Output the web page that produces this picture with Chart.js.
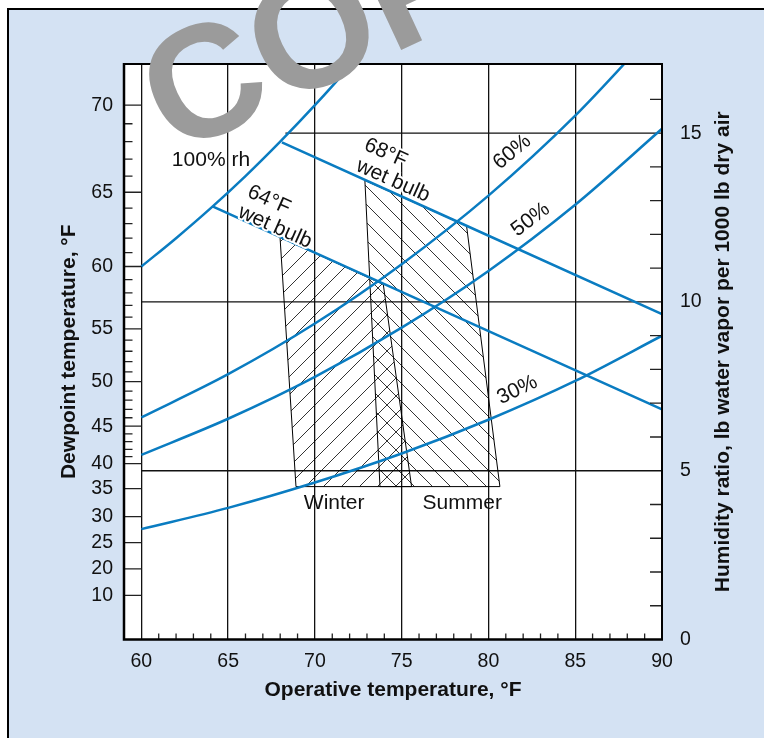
<!DOCTYPE html>
<html>
<head>
<meta charset="utf-8">
<script src="https://cdn.jsdelivr.net/npm/chart.js@4.4.1/dist/chart.umd.min.js"></script>
<style>
  html, body { margin: 0; padding: 0; background: #fff; }
  #wrap { position: relative; width: 764px; height: 738px; overflow: hidden; }
  #panel { position: absolute; left: 7px; top: 8px; width: 800px; height: 800px;
           background: #d4e2f3; border-top: 2.5px solid #000; border-left: 2.5px solid #000; }
  #chart { position: absolute; left: 0; top: 0; }
</style>
</head>
<body>
<div id="wrap">
  <div id="panel"></div>
  <canvas id="chart" width="764" height="738"></canvas>
</div>
<script>
// ---- data (x = operative temp °F, y = humidity ratio lb/1000 lb) ----
const satTemps = [60, 62, 64, 66, 68, 70, 72, 73];
const rh100 = [11.05, 11.89, 12.78, 13.73, 14.75, 15.83, 16.98, 17.6];

const rhTemps = [60, 65, 70, 75, 80, 85, 90];
const rh60 = [6.58, 7.86, 9.36, 11.12, 13.15, 15.52, 18.27];
const rh50 = [5.47, 6.54, 7.78, 9.24, 10.92, 12.88, 15.13];
const rh30 = [3.27, 3.90, 4.65, 5.51, 6.51, 7.66, 9.00];

const wb64Temps = [64.1, 90];
const wb64 = [12.83, 6.82];
const wb68Temps = [68.1, 90];
const wb68 = [14.73, 9.64];

// comfort zones (closed outlines)
const winterTemps = [67.99, 73.94, 75.57, 68.91, 67.99];
const winterW = [11.92, 10.52, 4.53, 4.53, 11.92];
const summerTemps = [72.88, 78.74, 80.66, 73.75, 72.88];
const summerW = [13.60, 12.25, 4.53, 4.53, 13.60];

// horizontal grid lines and where they start
const gridW = [5, 10, 15];
const gridFromT = [60, 60, 68.3];

// axes
const xTicks = [60, 65, 70, 75, 80, 85, 90];
const xMinor = [61, 62, 63, 64, 66, 67, 68, 69, 71, 72, 73, 74, 76, 77, 78, 79, 81, 82, 83, 84, 86, 87, 88, 89];
const wTicks = [0, 5, 10, 15];
const wMinor = [1, 2, 3, 4, 6, 7, 8, 9, 11, 12, 13, 14, 16];
const dewLabels = [10, 20, 25, 30, 35, 40, 45, 50, 55, 60, 65, 70];
const dewLabelW = [1.31, 2.09, 2.87, 3.64, 4.47, 5.21, 6.32, 7.64, 9.20, 11.05, 13.25, 15.83];
const dewMinorW = [5.42, 5.63, 5.86, 6.09, 6.57, 6.82, 7.09, 7.36, 7.93, 8.23, 8.54, 8.87,
                   9.55, 9.90, 10.27, 10.66, 11.46, 11.89, 12.32, 12.78, 13.73, 14.23, 14.75, 15.28];

// in-plot labels
const notes = [
  { text: '100% rh', t: 64.01, w: 14.21, a: 0, halo: true },
  { text: '64°F', t: 67.35, w: 13.02, a: 24, halo: true },
  { text: 'wet bulb', t: 67.70, w: 12.22, a: 24, halo: true },
  { text: '68°F', t: 74.08, w: 14.41, a: 24, halo: true },
  { text: 'wet bulb', t: 74.50, w: 13.59, a: 24, halo: true },
  { text: '60%', t: 81.37, w: 14.44, a: -40 },
  { text: '50%', t: 82.43, w: 12.44, a: -37 },
  { text: '30%', t: 81.66, w: 7.39, a: -26 },
  { text: 'Winter', t: 71.11, w: 4.04, a: 0 },
  { text: 'Summer', t: 78.49, w: 4.04, a: 0 }
];

const BLUE = '#0a7cc1';
const FONT = '"Liberation Sans", Arial, Helvetica, sans-serif';

const pts = (xs, ys) => xs.map((x, i) => ({ x, y: ys[i] }));

function hatch(dir) {
  const d = 18;
  const c = document.createElement('canvas');
  c.width = d; c.height = d;
  const g = c.getContext('2d');
  g.strokeStyle = '#000';
  g.lineWidth = 0.8;
  g.beginPath();
  if (dir === '/') {
    g.moveTo(-1, d + 1); g.lineTo(d + 1, -1);
    g.moveTo(-2, 2); g.lineTo(2, -2);
    g.moveTo(d - 2, d + 2); g.lineTo(d + 2, d - 2);
  } else {
    g.moveTo(-1, -1); g.lineTo(d + 1, d + 1);
    g.moveTo(-2, d - 2); g.lineTo(2, d + 2);
    g.moveTo(d - 2, -2); g.lineTo(d + 2, 2);
  }
  g.stroke();
  return g.createPattern(c, 'repeat');
}

const blueLine = (data) => ({
  data, borderColor: BLUE, borderWidth: 2.5, pointRadius: 0,
  cubicInterpolationMode: 'monotone', fill: false, clip: 0, order: 0
});

const datasets = [
  blueLine(pts(satTemps, rh100)),
  blueLine(pts(rhTemps, rh60)),
  blueLine(pts(rhTemps, rh50)),
  blueLine(pts(rhTemps, rh30)),
  blueLine(pts(wb64Temps, wb64)),
  blueLine(pts(wb68Temps, wb68)),
  { data: pts(winterTemps, winterW), borderColor: '#000', borderWidth: 1, pointRadius: 0,
    tension: 0, fill: 'shape', backgroundColor: hatch('/'), order: 2 },
  { data: pts(summerTemps, summerW), borderColor: '#000', borderWidth: 1, pointRadius: 0,
    tension: 0, fill: 'shape', backgroundColor: hatch('\\'), order: 2 }
];
gridW.forEach((v, i) => {
  datasets.push({ data: [{ x: gridFromT[i], y: v }, { x: 90, y: v }], borderColor: '#111',
    borderWidth: 1.3, pointRadius: 0, fill: false, order: 3 });
});
datasets.forEach(ds => { ds.yAxisID = 'w'; });

const decor = {
  id: 'decor',
  beforeDraw(chart) {
    const { ctx, chartArea: a } = chart;
    ctx.save();
    ctx.fillStyle = '#fff';
    ctx.fillRect(a.left, a.top, a.right - a.left, a.bottom - a.top);
    ctx.restore();
  },
  afterDatasetsDraw(chart) {
    const { ctx, chartArea: a } = chart;
    const x = chart.scales.x, w = chart.scales.w;

    // labels inside the plot
    ctx.save();
    ctx.font = '21px ' + FONT;
    ctx.textAlign = 'center';
    ctx.textBaseline = 'middle';
    notes.forEach(n => {
      ctx.save();
      ctx.translate(x.getPixelForValue(n.t), w.getPixelForValue(n.w));
      ctx.rotate(n.a * Math.PI / 180);
      if (n.halo) {
        ctx.strokeStyle = '#fff';
        ctx.lineWidth = 4;
        ctx.lineJoin = 'round';
        ctx.strokeText(n.text, 0, 0);
      }
      ctx.fillStyle = '#111';
      ctx.fillText(n.text, 0, 0);
      ctx.restore();
    });
    ctx.restore();

    // inward tick marks
    ctx.save();
    ctx.strokeStyle = '#222';
    ctx.lineWidth = 1.3;
    ctx.beginPath();
    const x60 = x.getPixelForValue(60);
    dewLabelW.forEach(v => { const y = w.getPixelForValue(v); ctx.moveTo(a.left, y); ctx.lineTo(x60, y); });
    dewMinorW.forEach(v => { const y = w.getPixelForValue(v); ctx.moveTo(a.left, y); ctx.lineTo(a.left + 8.5, y); });
    xMinor.forEach(v => { const px = x.getPixelForValue(v); ctx.moveTo(px, a.bottom); ctx.lineTo(px, a.bottom - 6); });
    wMinor.forEach(v => { const y = w.getPixelForValue(v); ctx.moveTo(a.right, y); ctx.lineTo(a.right - 12, y); });
    ctx.stroke();

    // plot frame
    ctx.strokeStyle = '#000';
    ctx.lineWidth = 2;
    ctx.beginPath();
    ctx.moveTo(a.left, a.top); ctx.lineTo(a.right, a.top); ctx.lineTo(a.right, a.bottom);
    ctx.stroke();
    ctx.lineWidth = 2.5;
    ctx.beginPath();
    ctx.moveTo(a.left, a.top - 1); ctx.lineTo(a.left, a.bottom); ctx.lineTo(a.right + 1, a.bottom);
    ctx.stroke();
    ctx.restore();
  },
  afterDraw(chart) {
    const { ctx, chartArea: a } = chart;
    // right axis title, reading bottom to top
    ctx.save();
    ctx.translate(723, (a.top + a.bottom) / 2);
    ctx.rotate(-Math.PI / 2);
    ctx.font = 'bold 21px ' + FONT;
    ctx.fillStyle = '#111';
    ctx.textAlign = 'center';
    ctx.textBaseline = 'middle';
    ctx.fillText('Humidity ratio, lb water vapor per 1000 lb dry air', 0, 0);
    ctx.restore();

    // watermark
    ctx.save();
    ctx.translate(174, 156);
    ctx.rotate(-25 * Math.PI / 180);
    ctx.font = 'bold 160px ' + FONT;
    ctx.fillStyle = '#9b9b9b';
    ctx.textAlign = 'left';
    ctx.textBaseline = 'alphabetic';
    ctx.fillText('COPY', 0, 0);
    ctx.restore();
  }
};

const tickFont = { family: FONT, size: 19.5 };
const titleFont = { family: FONT, size: 21, weight: 'bold' };

new Chart(document.getElementById('chart'), {
  type: 'line',
  data: { datasets },
  plugins: [decor],
  options: {
    responsive: false,
    animation: false,
    parsing: true,
    layout: { padding: { top: 64, left: 0, right: 0, bottom: 0 } },
    plugins: { legend: { display: false }, tooltip: { enabled: false } },
    scales: {
      x: {
        type: 'linear', min: 59, max: 90,
        afterBuildTicks: s => { s.ticks = xTicks.map(v => ({ value: v })); },
        afterFit: s => { s.height = 98.5; },
        grid: { color: '#111', lineWidth: 1.3, drawTicks: false },
        border: { display: false },
        ticks: { padding: 10, color: '#111', font: tickFont, autoSkip: false, maxRotation: 0 },
        title: { display: true, text: 'Operative temperature, °F', color: '#111', font: titleFont,
                 padding: { top: 0, bottom: 35.4 } }
      },
      dew: {
        type: 'linear', position: 'left', min: 0, max: 17.05,
        afterBuildTicks: s => { s.ticks = dewLabelW.map(v => ({ value: v })); },
        afterFit: s => { s.width = 124; },
        grid: { display: false, drawTicks: false },
        border: { display: false },
        ticks: { padding: 11, color: '#111', font: tickFont, autoSkip: false,
                 callback: (v, i) => dewLabels[i] },
        title: { display: true, text: 'Dewpoint temperature, °F', color: '#111', font: titleFont,
                 padding: { top: 56.4, bottom: 0 } }
      },
      w: {
        type: 'linear', position: 'right', min: 0, max: 17.05,
        afterBuildTicks: s => { s.ticks = wTicks.map(v => ({ value: v })); },
        afterFit: s => { s.width = 102; },
        grid: { display: false, drawTicks: false },
        border: { display: false },
        ticks: { padding: 18, color: '#111', font: tickFont, autoSkip: false }
      }
    }
  }
});
</script>
</body>
</html>
